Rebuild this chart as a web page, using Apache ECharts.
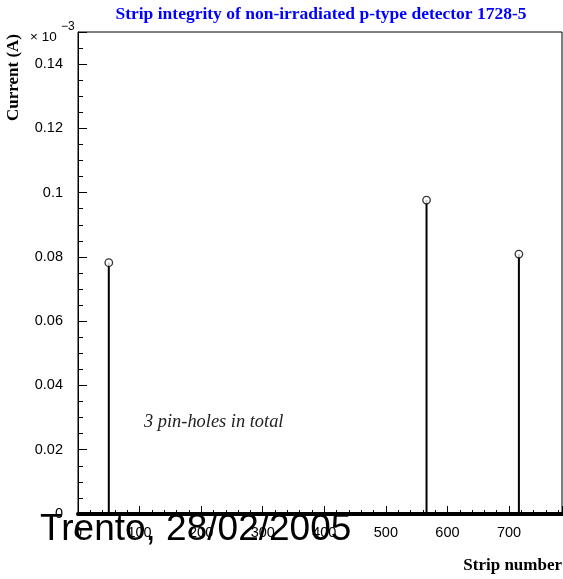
<!DOCTYPE html>
<html>
<head>
<meta charset="utf-8">
<script src="https://cdn.jsdelivr.net/npm/echarts@6/dist/echarts.min.js"></script>
<style>
  html, body { margin: 0; padding: 0; background: #fff; }
  #chart { width: 563px; height: 579px; }
</style>
</head>
<body>
<div id="chart"></div>
<script>
// Strips showing a pin-hole (strip number) and their leakage current, in units of 1e-3 A
const strips = [50, 566, 716];
const currents = [0.0782, 0.0977, 0.0809];

// Axis ranges and tick spacing
const xRange = [0, 786];
const xStep = 100;
const yRange = [0, 0.15];
const yStep = 0.02;

const titleText = 'Strip integrity of non-irradiated p-type detector 1728-5';
const noteText = '3 pin-holes in total';
const stampText = 'Trento, 28/02/2005';

const points = strips.map((s, i) => [s, currents[i]]);

const chart = echarts.init(document.getElementById('chart'), null, { renderer: 'canvas' });

const sans = 'Liberation Sans, Arial, sans-serif';
const serif = 'Liberation Serif, Times New Roman, serif';

chart.setOption({
  animation: false,
  backgroundColor: '#ffffff',
  grid: {
    left: 78, right: 1, top: 32, bottom: 65,
    show: true, borderColor: '#000', borderWidth: 1, backgroundColor: 'transparent'
  },
  xAxis: {
    type: 'value',
    min: xRange[0], max: xRange[1], interval: xStep,
    axisLine: { show: true, lineStyle: { color: '#000', width: 4 } },
    axisTick: { show: true, inside: true, length: 8, lineStyle: { color: '#000' } },
    minorTick: { show: true, splitNumber: 5, length: 4, lineStyle: { color: '#000' } },
    splitLine: { show: false },
    axisLabel: {
      show: true, showMaxLabel: false, margin: 11,
      color: '#000', fontFamily: sans, fontSize: 14.5
    }
  },
  yAxis: {
    type: 'value',
    min: yRange[0], max: yRange[1], interval: yStep,
    axisLine: { show: true, lineStyle: { color: '#000', width: 1 } },
    axisTick: { show: true, inside: true, length: 9, lineStyle: { color: '#000' } },
    minorTick: { show: true, splitNumber: 4, length: 5, lineStyle: { color: '#000' } },
    splitLine: { show: false },
    axisLabel: {
      show: true, showMaxLabel: false, margin: 15,
      color: '#000', fontFamily: sans, fontSize: 14.5,
      formatter: v => String(+v.toFixed(2))
    }
  },
  series: [
    {
      // vertical stems from zero up to each measured current
      type: 'bar',
      data: points,
      barWidth: 2,
      itemStyle: { color: '#000' },
      silent: true,
      z: 2
    },
    {
      // open-circle markers at the measured values
      type: 'scatter',
      data: points,
      symbol: 'circle',
      symbolSize: 7.5,
      itemStyle: { color: '#fff', borderColor: '#000', borderWidth: 1.3 },
      z: 3
    }
  ],
  graphic: [
    {
      type: 'text', x: 321, y: 5,
      style: {
        text: titleText, fill: '#0000ff', align: 'center',
        font: 'bold 17.5px ' + serif
      }
    },
    {
      type: 'text', rotation: Math.PI / 2, x: 5, y: 121,
      style: {
        text: 'Current (A)', fill: '#000',
        font: 'bold 17px ' + serif
      }
    },
    {
      type: 'text', x: 30, y: 30,
      style: { text: '× 10', fill: '#000', font: '13.5px ' + sans }
    },
    {
      type: 'text', x: 61, y: 21,
      style: { text: '−3', fill: '#000', font: '12px ' + sans }
    },
    {
      type: 'text', x: 144, y: 413,
      style: { text: noteText, fill: '#222', font: 'italic 18.4px ' + serif }
    },
    {
      type: 'text', x: 562, y: 557,
      style: { text: 'Strip number', fill: '#000', align: 'right', font: 'bold 17px ' + serif }
    },
    {
      type: 'text', x: 40, y: 511, z: 100,
      style: { text: stampText, fill: '#000', font: '37px ' + sans }
    }
  ]
});
</script>
</body>
</html>
